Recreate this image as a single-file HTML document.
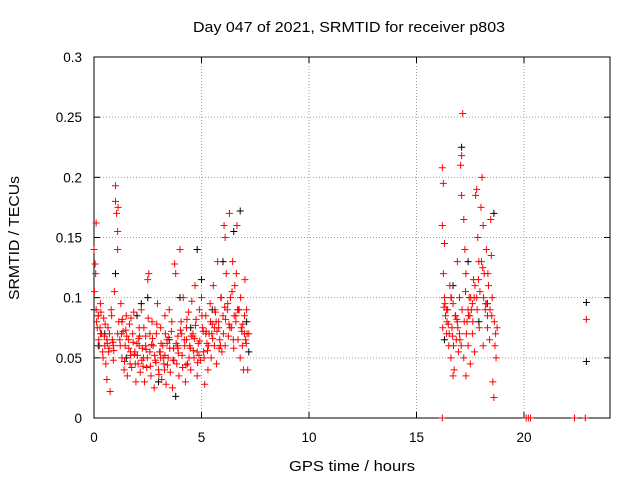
<!DOCTYPE html>
<html><head><meta charset="utf-8"><style>
body{margin:0;background:#fff}
svg{display:block;font-family:"Liberation Sans",sans-serif}
</style></head><body>
<svg id="chart" width="640" height="480">
<text x="349" y="32" text-anchor="middle" font-size="14.5" textLength="312" lengthAdjust="spacingAndGlyphs">Day 047 of 2021, SRMTID for receiver p803</text>
<text x="352" y="471" text-anchor="middle" font-size="14.5" textLength="126" lengthAdjust="spacingAndGlyphs">GPS time / hours</text>
<text transform="translate(19,238) rotate(-90)" text-anchor="middle" font-size="14.5" textLength="124" lengthAdjust="spacingAndGlyphs">SRMTID / TECUs</text>
<g id="grid"></g>
<g id="axes"></g>
<g id="marks"></g>
</svg>
<script>
const xTicks=[0,5,10,15,20];
const yTicks=[0,0.05,0.1,0.15,0.2,0.25,0.3];
const yTickLabels=["0","0.05","0.1","0.15","0.2","0.25","0.3"];
const redHoursA=[0,0.05,0.1,0.1,0.15,0.2,0.25,0.3,0.35,0.4,0.45,0.5,0.55,0.6,0.65,0.7,0.75,0.8,0.85,0.9,0.95,1.0,1.0,1.05,1.1,1.1,1.15,1.2,1.25,1.3,1.35,1.4,1.45,1.5,1.55,1.6,1.65,1.7,1.75,1.8,1.85,1.9,1.95,2.0,2.05,2.1,2.15,2.2,2.25,2.3,2.35,2.4,2.45,2.5,2.55,2.6,2.65,2.7,2.75,2.8,2.85,2.9,2.95,3.0,3.05,3.1,3.15,3.2,3.25,3.3,3.35,3.4,3.45,3.5,3.55,3.6,3.65,3.7,3.75,3.8,3.85,3.9,3.95,4.0,4.05,4.1,4.15,4.2,4.25,4.3,4.35,4.4,4.45,4.5,4.55,4.6,4.65,4.7,4.75,4.8,4.85,4.9,4.95,5.0,5.05,5.1,5.15,5.2,5.25,5.3,5.35,5.4,5.45,5.5,5.55,5.6,5.65,5.7,5.75,5.8,5.85,5.9,5.95,6.0,6.05,6.1,6.15,6.2,6.25,6.3,6.35,6.4,6.45,6.5,6.55,6.6,6.65,6.7,6.75,6.8,6.85,6.9,6.95,7.0,7.05,7.1,7.15,7.2,
0.3,0.6,0.9,1.3,1.7,2.1,2.6,3.1,3.4,3.9,4.3,4.8,5.2,5.6,6.1,6.6,7.0,0.2,1.1,2.4,3.3,4.6,5.8];
const redValuesA=[0.14,0.128,0.162,0.09,0.075,0.085,0.06,0.095,0.07,0.055,0.083,0.06,0.045,0.032,0.075,0.058,0.022,0.09,0.065,0.048,0.105,0.193,0.18,0.17,0.14,0.155,0.08,0.065,0.095,0.05,0.072,0.04,0.06,0.085,0.035,0.065,0.078,0.052,0.042,0.07,0.088,0.055,0.03,0.062,0.045,0.075,0.038,0.09,0.058,0.05,0.03,0.068,0.042,0.115,0.12,0.055,0.035,0.08,0.06,0.025,0.048,0.07,0.095,0.04,0.055,0.075,0.032,0.06,0.045,0.085,0.028,0.065,0.05,0.09,0.038,0.072,0.025,0.058,0.128,0.12,0.045,0.068,0.035,0.14,0.08,0.052,0.1,0.065,0.03,0.075,0.045,0.088,0.06,0.04,0.097,0.07,0.05,0.11,0.082,0.035,0.062,0.09,0.048,0.1,0.075,0.055,0.028,0.085,0.062,0.04,0.07,0.095,0.05,0.078,0.11,0.06,0.088,0.045,0.13,0.075,0.065,0.1,0.055,0.085,0.16,0.15,0.12,0.09,0.068,0.17,0.1,0.075,0.13,0.058,0.11,0.085,0.16,0.065,0.09,0.05,0.075,0.06,0.04,0.085,0.065,0.09,0.04,0.07,
0.07,0.065,0.06,0.08,0.055,0.06,0.07,0.05,0.062,0.058,0.065,0.055,0.07,0.075,0.06,0.08,0.07,0.085,0.07,0.06,0.052,0.068,0.08];
const redHoursB=[0.02,0.12,0.22,0.32,0.42,0.52,0.62,0.72,0.82,0.92,
1.12,1.22,1.32,1.42,1.52,1.62,1.72,1.82,1.92,2.02,
2.12,2.22,2.32,2.42,2.52,2.62,2.72,2.82,2.92,3.02,
3.12,3.22,3.32,3.42,3.52,3.62,3.72,3.82,3.92,4.02,
4.12,4.22,4.32,4.42,4.52,4.62,4.72,4.82,4.92,5.02,
5.12,5.22,5.32,5.42,5.52,5.62,5.72,5.82,5.92,6.02,
6.12,6.22,6.32,6.42,6.52,6.62,6.72,6.82,6.92,7.02,
7.12];
const redValuesB=[0.105,0.08,0.065,0.088,0.05,0.078,0.062,0.07,0.085,0.056,
0.175,0.06,0.082,0.047,0.068,0.058,0.083,0.063,0.045,0.052,
0.068,0.048,0.075,0.057,0.083,0.043,0.066,0.052,0.078,0.036,
0.062,0.05,0.07,0.044,0.058,0.08,0.048,0.062,0.054,0.073,
0.042,0.06,0.082,0.05,0.068,0.056,0.077,0.046,0.064,0.085,
0.05,0.072,0.06,0.08,0.066,0.09,0.072,0.058,0.1,0.07,
0.082,0.095,0.075,0.105,0.085,0.12,0.09,0.1,0.078,0.115,
0.07];
const redHoursC=[0.08,0.28,0.48,0.68,0.88,1.28,1.48,1.68,1.88,2.08,
2.28,2.48,2.68,2.88,3.08,3.28,3.48,3.68,3.88,4.08,
4.28,4.48,4.68,4.88,5.08,5.28,5.48,5.68,5.88,6.08,
6.28,6.48,6.68,6.88,7.08];
const redValuesC=[0.12,0.075,0.068,0.055,0.063,0.07,0.073,0.045,0.053,0.066,
0.043,0.05,0.061,0.046,0.055,0.04,0.067,0.048,0.06,0.07,
0.044,0.058,0.066,0.052,0.072,0.056,0.07,0.08,0.06,0.092,
0.078,0.065,0.09,0.072,0.062];
const redHoursD=[16.2,16.25,16.2,16.3,16.25,16.3,16.35,16.4,16.45,16.5,16.55,16.6,16.65,16.7,16.75,16.8,16.85,16.9,16.95,17.0,17.05,17.1,17.15,17.1,17.2,17.25,17.3,17.35,17.4,17.45,17.5,17.55,17.6,17.65,17.7,17.75,17.8,17.85,17.9,17.95,18.0,18.05,18.1,18.15,18.2,18.25,18.3,18.35,18.4,18.45,18.5,18.55,18.6,18.65,18.7,18.75,17.0,17.2,17.4,16.7,17.6,18.1,17.3,16.9,16.4,16.6,17.8,18.3];
const redValuesD=[0.208,0.195,0.16,0.145,0.12,0.1,0.085,0.07,0.09,0.06,0.11,0.05,0.075,0.095,0.04,0.085,0.065,0.13,0.055,0.1,0.21,0.218,0.253,0.185,0.165,0.14,0.12,0.08,0.06,0.1,0.045,0.09,0.07,0.115,0.055,0.185,0.19,0.15,0.13,0.105,0.175,0.2,0.16,0.12,0.09,0.14,0.075,0.11,0.065,0.165,0.085,0.03,0.017,0.06,0.05,0.075,0.07,0.05,0.09,0.035,0.095,0.06,0.035,0.08,0.09,0.1,0.1,0.085];
const redHoursE=[16.22,16.32,16.42,16.52,16.62,16.72,16.82,16.92,17.02,17.12,
17.22,17.32,17.42,17.52,17.62,17.72,17.82,17.92,18.02,18.12,
18.22,18.32,18.42,18.52,18.62,
16.28,16.48,16.68,16.88,17.08,17.28,17.48,17.68,17.88,18.08,18.28,18.48,18.68];
const redValuesE=[0.075,0.095,0.08,0.07,0.1,0.06,0.085,0.075,0.065,0.09,
0.08,0.07,0.085,0.1,0.08,0.11,0.09,0.075,0.13,0.1,
0.095,0.12,0.09,0.1,0.08,
0.092,0.078,0.068,0.082,0.06,0.105,0.085,0.1,0.115,0.125,0.095,0.135,0.07];
const redHoursF=[22.9,16.2,20.1,20.2,20.3,22.35,22.85];
const redValuesF=[0.082,0,0,0,0,0,0];
const blackHours=[0,0.2,0.5,1.0,1.5,2.0,2.5,3.0,3.5,4.0,4.5,5.0,5.5,6.0,6.5,6.8,7.1,3.8,4.8,16.3,16.7,17.1,17.4,17.9,18.3,18.6,22.9,22.9,7.2,2.2];
const blackValues=[0.09,0.06,0.07,0.12,0.05,0.085,0.1,0.03,0.065,0.1,0.075,0.115,0.09,0.13,0.155,0.172,0.08,0.018,0.14,0.065,0.11,0.225,0.13,0.08,0.095,0.17,0.096,0.047,0.055,0.095];

const redHours=[].concat(redHoursA,redHoursB,redHoursC,redHoursD,redHoursE,redHoursF);
const redValues=[].concat(redValuesA,redValuesB,redValuesC,redValuesD,redValuesE,redValuesF);

const NS="http://www.w3.org/2000/svg";
const L=94,R=610,T=57,B=418,XMAX=24,YMAX=0.3;
const xs=v=>L+(R-L)*v/XMAX, ys=v=>B-(B-T)*v/YMAX;
const grid=document.getElementById('grid'),axes=document.getElementById('axes'),marks=document.getElementById('marks');
function mk(tag,attrs,parent){const e=document.createElementNS(NS,tag);for(const k in attrs)e.setAttribute(k,attrs[k]);parent.appendChild(e);return e;}
yTicks.forEach((v,i)=>{
  const y=ys(v);
  if(i>0&&i<yTicks.length-1){const g=mk('line',{x1:L,x2:R,y1:y,y2:y,stroke:'#a0a0a0','stroke-dasharray':'1,2'},grid);
  
  }
  mk('line',{x1:L,x2:L+6,y1:y,y2:y,stroke:'#000'},axes);
  mk('line',{x1:R,x2:R-6,y1:y,y2:y,stroke:'#000'},axes);
  const t=mk('text',{x:L-12,y:y+5,'text-anchor':'end','font-size':'13.5'},axes);
  t.textContent=yTickLabels[i];
  
  
});
xTicks.forEach(v=>{
  const x=xs(v);
  if(v>0){const g=mk('line',{x1:x,x2:x,y1:T,y2:B,stroke:'#a0a0a0','stroke-dasharray':'1,2'},grid);
  
  }
  mk('line',{x1:x,x2:x,y1:B,y2:B-6,stroke:'#000'},axes);
  mk('line',{x1:x,x2:x,y1:T,y2:T+6,stroke:'#000'},axes);
  const t=mk('text',{x:x,y:B+24,'text-anchor':'middle','font-size':'13.5'},axes);
  t.textContent=String(v);
  
  
});
const frame=mk('rect',{x:L,y:T,width:R-L,height:B-T,fill:'none',stroke:'#000'},axes);


function plus(x,y,c,name){
  const p=mk('path',{d:`M${x-3.5},${y}h7M${x},${y-3.5}v7`,stroke:c,'stroke-width':1,fill:'none'},marks);
  
  
}
blackHours.forEach((h,i)=>plus(xs(h),ys(blackValues[i]),'#000','black-point'));
redHours.forEach((h,i)=>plus(xs(h),ys(redValues[i]),'#f00','red-point'));
</script>
</body></html>
